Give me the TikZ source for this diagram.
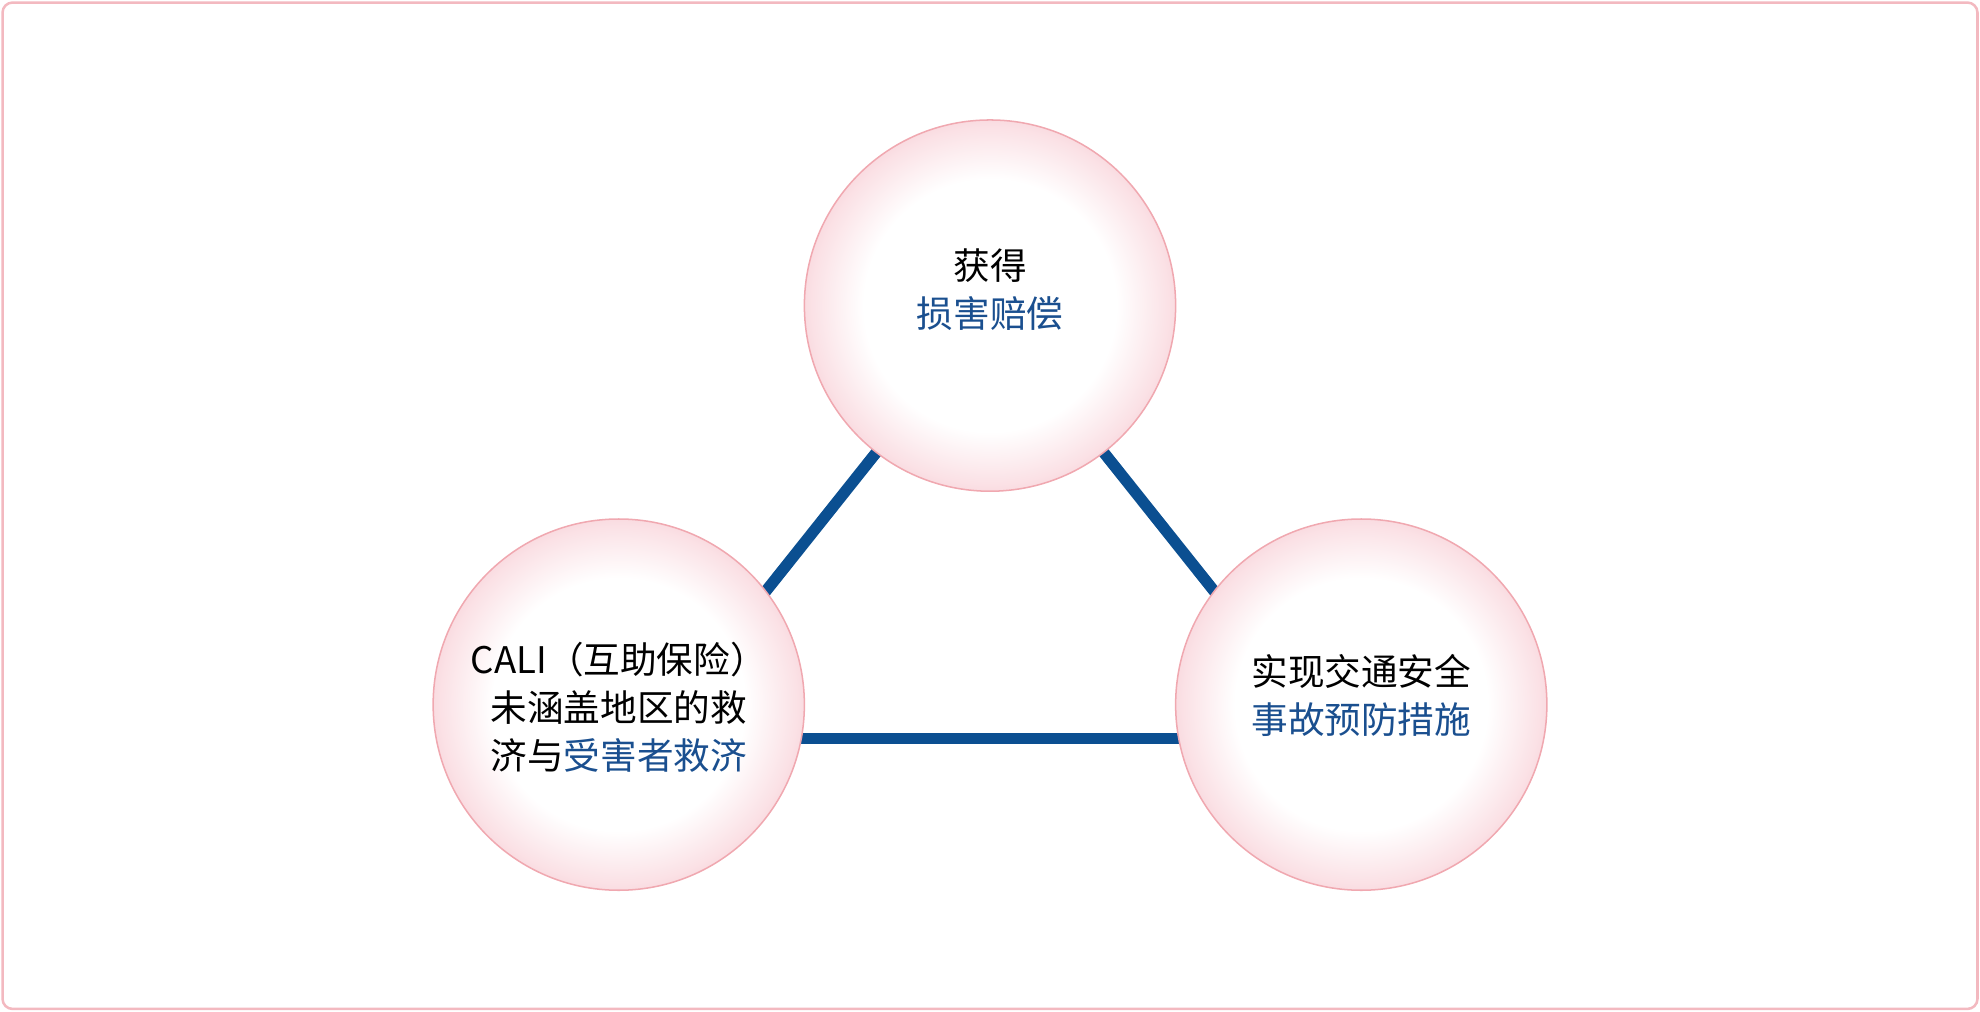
\documentclass[tikz,border=0pt]{standalone}
\usepackage{fontspec}
\setmainfont{Noto Sans CJK SC}
\usetikzlibrary{shadings}
\definecolor{pinkedge}{HTML}{F0A8B0}
\definecolor{pinkfill}{HTML}{F7C8D0}
\definecolor{linkblue}{HTML}{0B4F91}
\definecolor{txtblue}{HTML}{1A4F8F}
\pgfdeclareradialshading{bubshade}{\pgfpoint{0cm}{0cm}}{color(0cm)=(white);color(0.6cm)=(white);color(0.85cm)=(pinkfill!55);color(1cm)=(pinkfill)}
\tikzset{
  bubble/.style={circle,minimum size=294pt,draw=pinkedge,line width=1.2pt,shading=bubshade,align=center,font=\fontsize{29pt}{38pt}\selectfont},
  link/.style={draw=linkblue,line width=9pt}
}
\begin{document}
\begin{tikzpicture}[x=1pt,y=-1pt]
\useasboundingbox (0,0) rectangle (1568,801);
\draw[draw=pinkedge!80,line width=2pt,rounded corners=8pt] (2,2) rectangle (1566,799);
\coordinate (a1) at (695,357); \coordinate (a2) at (605,470);
\coordinate (b1) at (873,357); \coordinate (b2) at (963,470);
\coordinate (c1) at (634,585); \coordinate (c2) at (934,585);
\draw[link] (a1) -- (a2);
\draw[link] (b1) -- (b2);
\draw[link] (c1) -- (c2);
\node[bubble] (top) at (784,242) {};
\node[bubble] (left) at (490,558) {};
\node[bubble] (right) at (1078,558) {};
\node[align=center,font=\fontsize{29pt}{38pt}\selectfont] (ttop) at (784,229) {获得\\\textcolor{txtblue}{损害赔偿}};
\node[align=center,font=\fontsize{29pt}{38pt}\selectfont] (tleft) at (490,560) {CALI（互助保险）\\未涵盖地区的救\\济与\textcolor{txtblue}{受害者救济}};
\node[align=center,font=\fontsize{29pt}{38pt}\selectfont] (tright) at (1078,551) {实现交通安全\\\textcolor{txtblue}{事故预防措施}};
\end{tikzpicture}
\end{document}
